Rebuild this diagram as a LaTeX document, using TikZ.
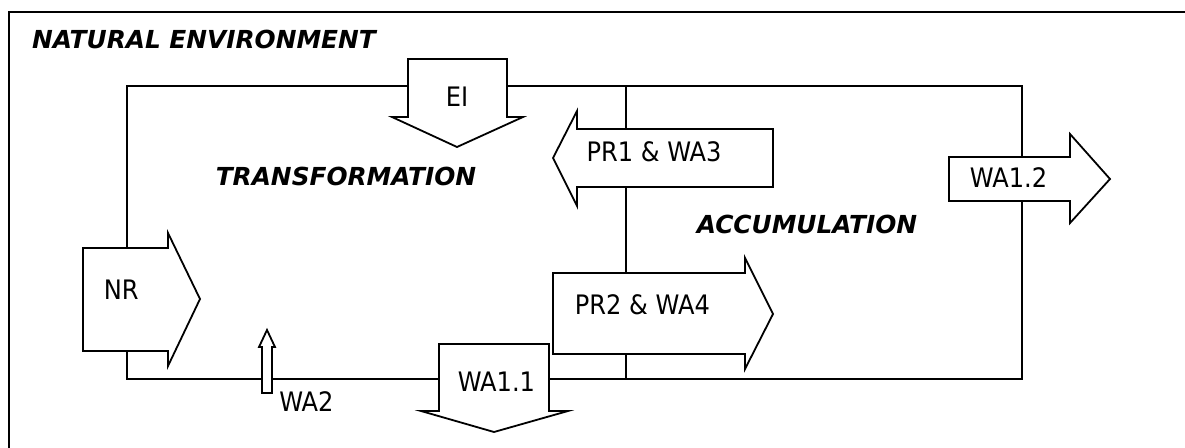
\documentclass[tikz,border=0pt]{standalone}
\usepackage{fontspec}
\setmainfont{DejaVu Sans}
\newfontfamily\condfont{DejaVu Sans Condensed}

\tikzset{
  boxline/.style={draw, line width=2pt},
  blockarrow/.style={draw, fill=white, line width=1.8pt, line join=miter},
  flowlabel/.style={inner sep=0pt, font=\condfont\fontsize{26.8}{30}\selectfont},
  arealabel/.style={inner sep=0pt, font=\bfseries\itshape\fontsize{24.8}{30}\selectfont},
}

\begin{document}
\begin{tikzpicture}[x=1pt, y=-1pt]
            \useasboundingbox (0,0) rectangle (1185,447);
            \clip (0,0) rectangle (1185,447);

            % environment frame, transformation and accumulation boxes
            \draw[boxline] (9,12) rectangle (1200,470);
            \draw[boxline] (127,86) rectangle (1022,379);
            \draw[boxline] (626,86) -- (626,379);

            % block arrows (flows)
            \draw[blockarrow] (408,59) -- (507,59) -- (507,117) -- (523,117) -- (457,147) -- (392,117) -- (408,117) -- cycle;
            \draw[blockarrow] (773,129) -- (773,187) -- (577,187) -- (577,206) -- (553,158) -- (577,111) -- (577,129) -- cycle;
            \draw[blockarrow] (949,157) -- (1070,157) -- (1070,134) -- (1110,179) -- (1070,223) -- (1070,201) -- (949,201) -- cycle;
            \draw[blockarrow] (83,248) -- (168,248) -- (168,233) -- (200,299) -- (168,366) -- (168,351) -- (83,351) -- cycle;
            \draw[blockarrow] (553,273) -- (745,273) -- (745,258) -- (773,314) -- (745,369) -- (745,354) -- (553,354) -- cycle;
            \draw[blockarrow] (262,393) -- (262,347) -- (259,347) -- (267,330) -- (275,347) -- (272,347) -- (272,393) -- cycle;
            \draw[blockarrow] (439,344) -- (549,344) -- (549,411) -- (568,411) -- (494,432) -- (421,411) -- (439,411) -- cycle;

            \node[arealabel] (naturalenv) at (204,39) {NATURAL ENVIRONMENT};
            \node[arealabel] (transformation) at (346,176.5) {TRANSFORMATION};
            \node[arealabel] (accumulation) at (807,224.5) {ACCUMULATION};

            \node[flowlabel] (ei) at (457,97) {EI};
            \node[flowlabel] (prwa3) at (654,152) {PR1 \& WA3};
            \node[flowlabel] (wa12) at (1008.5,178) {WA1.2};
            \node[flowlabel] (nr) at (121.3,290) {NR};
            \node[flowlabel] (prwa4) at (642.4,305) {PR2 \& WA4};
            \node[flowlabel] (wa2) at (306.4,401.7) {WA2};
            \node[flowlabel] (wa11) at (496.4,381.7) {WA1.1};
        \end{tikzpicture}
\end{document}
